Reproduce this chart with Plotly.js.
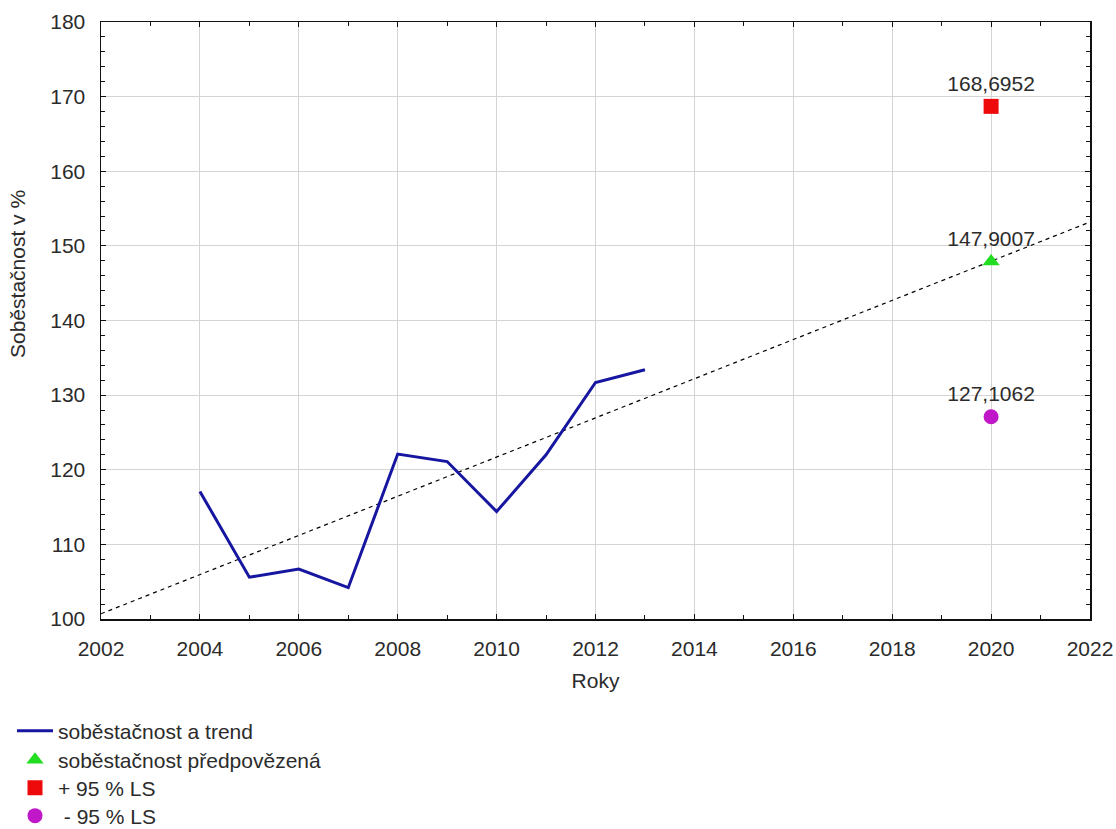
<!DOCTYPE html>
<html>
<head>
<meta charset="utf-8">
<script src="https://cdn.plot.ly/plotly-3.0.1.min.js"></script>
<style>
  html, body { margin: 0; padding: 0; background: #fff; }
  #chart { width: 1116px; height: 829px; }
</style>
</head>
<body>
<div id="chart"></div>
<script>
// Observed self-sufficiency (%) by year
const years = [2004, 2005, 2006, 2007, 2008, 2009, 2010, 2011, 2012, 2013];
const selfSufficiency = [117.1, 105.6, 106.7, 104.2, 122.1, 121.1, 114.4, 122.0, 131.7, 133.4];

// Linear trend, end points over the axis range
const trendYears = [2002, 2022];
const trendValues = [100.7, 153.2];

// Forecast for 2020 with 95 % limits
const forecastYear = [2020];
const forecastValue = [147.9007];
const upperLimit = [168.6952];
const lowerLimit = [127.1062];

const xTicks = [2002, 2004, 2006, 2008, 2010, 2012, 2014, 2016, 2018, 2020, 2022];
const yTicks = [100, 110, 120, 130, 140, 150, 160, 170, 180];

const legendNames = [
  'soběstačnost a trend',
  'soběstačnost předpovězená',
  '+ 95 % LS',
  ' - 95 % LS'
];

const FONT = '"Liberation Sans", Arial, sans-serif';
const TEXT_COLOR = '#2b2b2b';

// decimal comma labels
const fmt = v => v.map(x => x.toFixed(4).replace('.', ','));

const traces = [
  {
    x: trendYears, y: trendValues,
    type: 'scatter', mode: 'lines',
    line: { color: '#000', width: 1.2, dash: '4px,4px' },
    showlegend: false, hoverinfo: 'skip'
  },
  {
    x: years, y: selfSufficiency,
    type: 'scatter', mode: 'lines',
    name: legendNames[0],
    line: { color: '#1616a0', width: 3 },
    legend: 'legend'
  },
  {
    x: forecastYear, y: forecastValue,
    type: 'scatter', mode: 'markers+text',
    name: legendNames[1],
    marker: { symbol: 'triangle-up', size: 15, color: '#22dd22' },
    text: fmt(forecastValue), textposition: 'top center',
    textfont: { family: FONT, size: 21, color: TEXT_COLOR },
    legend: 'legend2'
  },
  {
    x: forecastYear, y: upperLimit,
    type: 'scatter', mode: 'markers+text',
    name: legendNames[2],
    marker: { symbol: 'square', size: 15, color: '#ee0a0a' },
    text: fmt(upperLimit), textposition: 'top center',
    textfont: { family: FONT, size: 21, color: TEXT_COLOR },
    legend: 'legend3'
  },
  {
    x: forecastYear, y: lowerLimit,
    type: 'scatter', mode: 'markers+text',
    name: legendNames[3],
    marker: { symbol: 'circle', size: 15, color: '#c018c8' },
    text: fmt(lowerLimit), textposition: 'top center',
    textfont: { family: FONT, size: 21, color: TEXT_COLOR },
    legend: 'legend4'
  }
];

function legendAt(yPx) {
  return {
    xref: 'container', yref: 'container',
    x: 12 / 1116, y: 1 - yPx / 829,
    xanchor: 'left', yanchor: 'middle',
    itemwidth: 36,
    bgcolor: 'rgba(0,0,0,0)', borderwidth: 0,
    font: { family: FONT, size: 21, color: TEXT_COLOR }
  };
}

const axisCommon = {
  showline: true, linecolor: '#111', linewidth: 1.5, mirror: 'allticks',
  ticks: 'inside', ticklen: 5, tickcolor: '#111', tickwidth: 1,
  showgrid: true, gridcolor: '#d4d4d4', gridwidth: 1,
  zeroline: false, automargin: false,
  tickfont: { family: FONT, size: 21, color: TEXT_COLOR }
};

const layout = {
  width: 1116, height: 829,
  paper_bgcolor: '#fff', plot_bgcolor: '#fff',
  margin: { l: 101, r: 26, t: 22, b: 210, autoexpand: false },
  font: { family: FONT, color: TEXT_COLOR },
  showlegend: true,
  xaxis: Object.assign({}, axisCommon, {
    range: [2002, 2022], tickmode: 'array', tickvals: xTicks,
    ticklabelstandoff: 10,
    minor: { dtick: 1, ticks: 'inside', ticklen: 4, tickcolor: '#111', showgrid: false },
    title: { text: 'Roky', font: { family: FONT, size: 21, color: TEXT_COLOR }, standoff: 14 }
  }),
  yaxis: Object.assign({}, axisCommon, {
    range: [100, 180], tickmode: 'array', tickvals: yTicks,
    ticklabelstandoff: 10,
    minor: { dtick: 2, ticks: 'inside', ticklen: 4, tickcolor: '#111', showgrid: false }
  }),
  legend: legendAt(731),
  legend2: legendAt(760),
  legend3: legendAt(788),
  legend4: legendAt(816),
  annotations: [
    {
      text: 'Soběstačnost v %', textangle: -90,
      xref: 'paper', yref: 'paper',
      x: 0, y: 1 - (274 - 22) / 597,
      xanchor: 'center', yanchor: 'middle',
      xshift: -84, showarrow: false,
      font: { family: FONT, size: 21, color: TEXT_COLOR }
    }
  ]
};

Plotly.newPlot('chart', traces, layout, { displayModeBar: false, staticPlot: true });
</script>
</body>
</html>
